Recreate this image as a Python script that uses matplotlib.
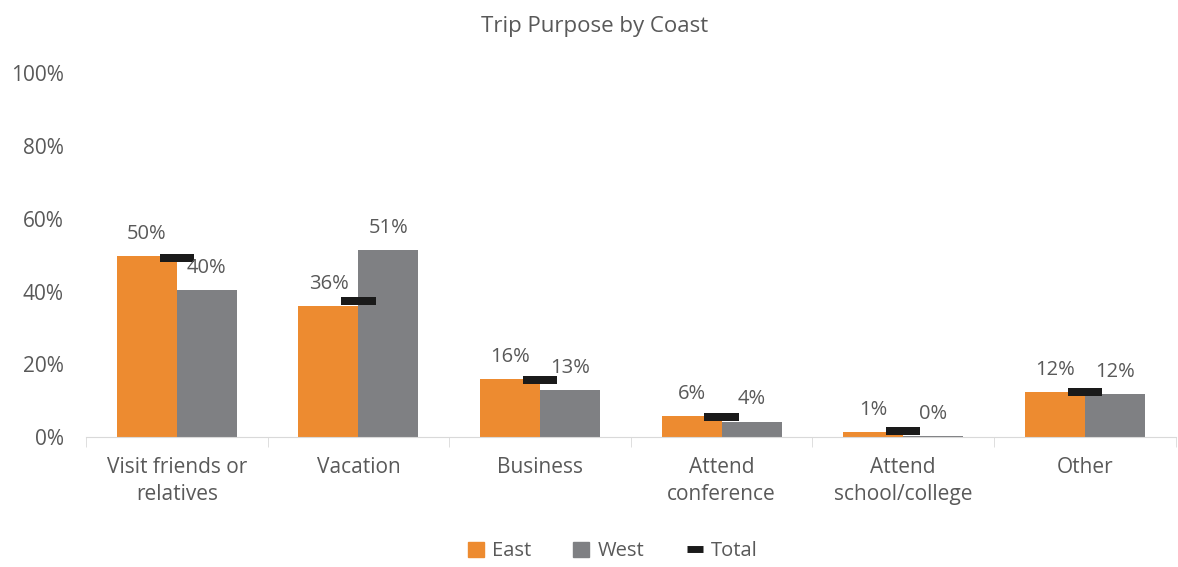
import matplotlib.pyplot as plt
import numpy as np
from matplotlib.lines import Line2D
from matplotlib.patches import Patch

categories = ["Visit friends or\nrelatives", "Vacation", "Business",
              "Attend\nconference", "Attend\nschool/college", "Other"]
east = [49.8, 36, 16, 5.8, 1.4, 12.3]
west = [40.4, 51.3, 13, 4.3, 0.4, 11.8]
total = [49.2, 37.4, 15.7, 5.5, 1.7, 12.4]
yticks = [0, 20, 40, 60, 80, 100]

orange = "#ED8B30"
grey = "#7F8083"
text_c = "#595959"

plt.rcParams['font.family'] = ['Open Sans', 'DejaVu Sans']

fig = plt.figure(figsize=(11.78, 5.67), dpi=100)
ax = fig.add_axes([0.073, 0.229, 0.925, 0.642])

x = np.arange(len(categories))
w = 0.33
ax.bar(x - w / 2, east, w, color=orange)
ax.bar(x + w / 2, west, w, color=grey)

# total markers: short thick dash at the group centre
tw = 0.19
th = 2.3
ax.bar(x, [th] * len(total), tw, bottom=np.array(total) - th / 2, color="#1a1a1a")

for xi, v in zip(x - w / 2, east):
    ax.text(xi, v + 3.3, f"{v:.0f}%", ha="center", va="bottom", color=text_c, fontsize=14.5)
for xi, v in zip(x + w / 2, west):
    ax.text(xi, v + 3.3, f"{v:.0f}%", ha="center", va="bottom", color=text_c, fontsize=14.5)

ax.set_xlim(-0.5, len(categories) - 0.5)
ax.set_ylim(0, 100)
ax.set_yticks(yticks)
ax.set_yticklabels([f"{t}%" for t in yticks])
ax.set_xticks(x)
ax.set_xticklabels(categories, linespacing=1.4)
ax.set_xticks(np.arange(len(categories) + 1) - 0.5, minor=True)
ax.tick_params(axis="x", which="major", length=0, pad=14, labelsize=15, colors=text_c)
ax.tick_params(axis="x", which="minor", length=7, color="#d9d9d9")
ax.tick_params(axis="y", length=0, pad=16, labelsize=15, colors=text_c)

for s in ["top", "right", "left"]:
    ax.spines[s].set_visible(False)
ax.spines["bottom"].set_color("#d9d9d9")

fig.suptitle("Trip Purpose by Coast", x=0.505, y=0.972, fontsize=16, color=text_c)

handles = [Patch(color=orange), Patch(color=grey),
           Line2D([], [], color="#1a1a1a", lw=5, solid_capstyle="butt")]
fig.legend(handles, ["East", "West", "Total"], loc="lower center", ncol=3,
           frameon=False, bbox_to_anchor=(0.52, -0.022), fontsize=14.5,
           handlelength=0.8, handleheight=0.8, columnspacing=2.1, handletextpad=0.4,
           labelcolor=text_c)

fig.savefig("out.png", dpi=100)
